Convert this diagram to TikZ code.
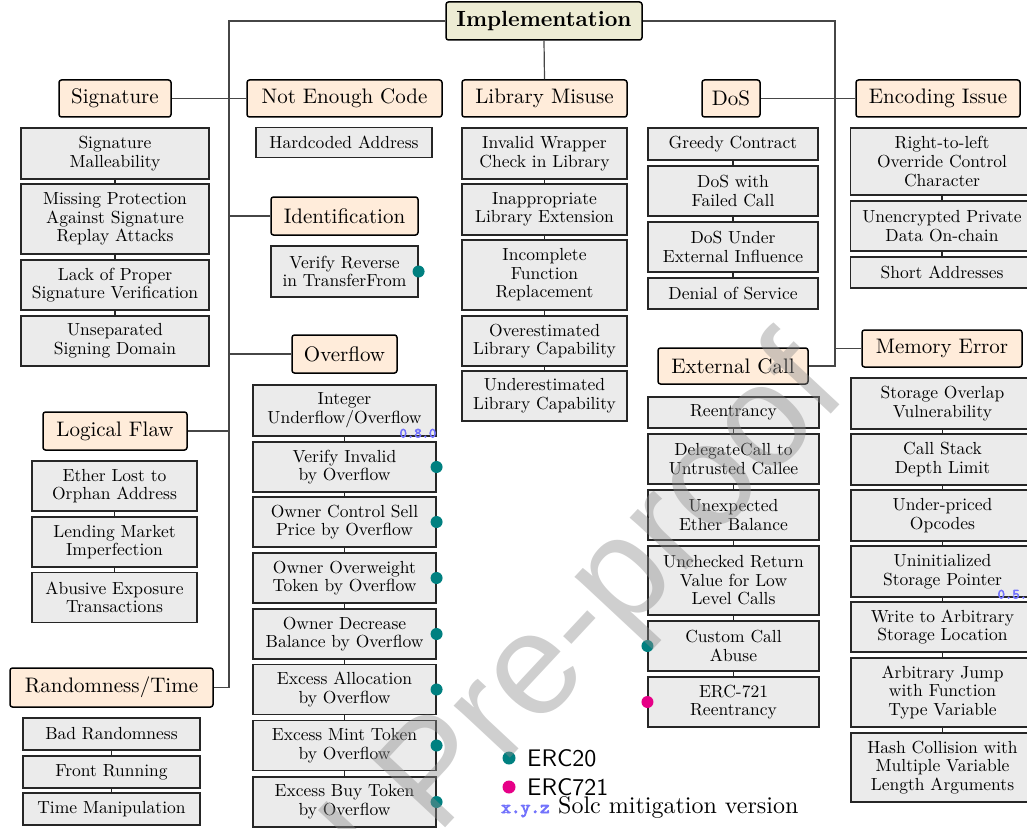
\documentclass[tikz,border=0pt]{standalone}
\usepackage{tikz}
\usepackage{fontspec}
\setmainfont{lmroman10-regular.otf}[BoldFont=lmroman10-bold.otf]
\setsansfont{lmsans10-regular.otf}
\setmonofont{lmmono10-regular.otf}
\newfontfamily\solcfont{lmmono10-regular.otf}[FakeBold=4]
\newfontfamily\wmfont{Liberation Sans}

\definecolor{hdrfill}{RGB}{255,236,218}
\definecolor{rootfill}{RGB}{237,236,212}
\definecolor{cellfill}{RGB}{235,235,235}
\definecolor{ercA}{RGB}{0,128,128}
\definecolor{ercB}{RGB}{230,0,135}
\definecolor{solc}{RGB}{115,115,252}
\definecolor{wirecol}{RGB}{70,70,70}

\tikzset{
  hdr/.style={draw=black, line width=1.5pt, rounded corners=2.5pt, fill=hdrfill,
    font=\fontsize{21}{24}\selectfont, inner sep=0pt, minimum height=37},
  rootbox/.style={hdr, fill=rootfill, font=\bfseries\fontsize{22}{24}\selectfont},
  cell/.style={draw=black!85, line width=1.1pt, fill=cellfill,
    font=\fontsize{17.5}{18.6}\selectfont, align=center, inner sep=1pt},
  treeline/.style={draw=wirecol, line width=1.2pt},
  stackline/.style={draw=black!85, line width=1.8pt},
  dotA/.style={circle, fill=ercA, draw=none, inner sep=0pt, minimum size=12},
  dotB/.style={circle, fill=ercB, draw=none, inner sep=0pt, minimum size=12},
  solcver/.style={text=solc, inner sep=0pt, font=\solcfont\fontsize{14}{15}\selectfont},
  legsans/.style={inner sep=0pt, font=\sffamily\fontsize{24}{26}\selectfont},
  legserif/.style={inner sep=0pt, font=\fontsize{24}{26}\selectfont},
}

\begin{document}
\begin{tikzpicture}[x=1pt,y=-1pt]
\useasboundingbox (0,0) rectangle (1027,829);
\clip (0,0) rectangle (1027,829);

% ---- category headers ----
\node[rootbox, minimum width=196, minimum height=38] (root) at (544,21) {Implementation};
\node[hdr, minimum width=112] (sig)   at (115,98.5)   {Signature};
\node[hdr, minimum width=195] (nec)   at (344.5,98.5) {Not Enough Code};
\node[hdr, minimum width=165] (lib)   at (544.5,98.5) {Library Misuse};
\node[hdr, minimum width=58]  (dos)   at (731,98.5)   {DoS};
\node[hdr, minimum width=164] (enc)   at (938,98.5)   {Encoding Issue};
\node[hdr, minimum width=147, minimum height=38] (ident) at (344.5,216) {Identification};
\node[hdr, minimum width=105, minimum height=38] (ovf)   at (344.5,354) {Overflow};
\node[hdr, minimum width=144, minimum height=38] (logic) at (115,431)   {Logical Flaw};
\node[hdr, minimum width=203, minimum height=39] (rand)  at (111.5,687.5) {Randomness/Time};
\node[hdr, minimum width=150, minimum height=36] (ext)   at (733,366)   {External Call};
\node[hdr, minimum width=160] (mem)   at (942,348.5)  {Memory Error};

% ---- tree connectors ----
\coordinate (lt) at (229,21);
\coordinate (rt) at (835,21);
\draw[treeline] (root.west) -| (lt |- rand.east) -- (rand.east);
\draw[treeline] (sig.east) -- (nec.west);
\draw[treeline] (ident.west) -- (ident.west -| lt);
\draw[treeline] (ovf.west) -- (ovf.west -| lt);
\draw[treeline] (logic.east) -- (logic.east -| lt);
\draw[treeline] (root.south) -- (lib.north);
\draw[treeline] (root.east) -| (rt |- ext.east) -- (ext.east);
\draw[treeline] (dos.east) -- (enc.west);
\draw[treeline] (mem.west) -- (mem.west -| rt);

% ---- Signature ----
\begin{scope}[every node/.append style={cell, minimum width=188}]
\node[minimum height=51] (s1) at (115,153.5) {Signature\\Malleability};
\node[minimum height=70] (s2) at (115,219)   {Missing Protection\\Against Signature\\Replay Attacks};
\node[minimum height=50] (s3) at (115,285)   {Lack of Proper\\Signature Verification};
\node[minimum height=50] (s4) at (115,341)   {Unseparated\\Signing Domain};
\end{scope}

% ---- Not Enough Code ----
\node[cell, minimum width=176, minimum height=30] (n1) at (344,142.5) {Hardcoded Address};

% ---- Library Misuse ----
\begin{scope}[every node/.append style={cell, minimum width=165}]
\node[minimum height=51] (l1) at (544.5,153.5) {Invalid Wrapper\\Check in Library};
\node[minimum height=51] (l2) at (544.5,209.5) {Inappropriate\\Library Extension};
\node[minimum height=70] (l3) at (544.5,275)   {Incomplete\\Function\\Replacement};
\node[minimum height=50] (l4) at (544.5,341)   {Overestimated\\Library Capability};
\node[minimum height=50] (l5) at (544.5,396)   {Underestimated\\Library Capability};
\end{scope}

% ---- DoS ----
\begin{scope}[every node/.append style={cell, minimum width=170}]
\node[minimum height=32] (d1) at (733,144)   {Greedy Contract};
\node[minimum height=50] (d2) at (733,191)   {DoS with\\Failed Call};
\node[minimum height=50] (d3) at (733,247)   {DoS Under\\External Influence};
\node[minimum height=31] (d4) at (733,293.5) {Denial of Service};
\end{scope}

% ---- Encoding Issue ----
\begin{scope}[every node/.append style={cell, minimum width=183}]
\node[minimum height=67] (e1) at (942,161.5) {Right-to-left\\Override Control\\Character};
\node[minimum height=50] (e2) at (942,226)   {Unencrypted Private\\Data On-chain};
\node[minimum height=31] (e3) at (942,272.5) {Short Addresses};
\end{scope}

% ---- Identification ----
\node[cell, minimum width=147, minimum height=51] (i1) at (344.5,271.5) {Verify Reverse\\in TransferFrom};

% ---- Overflow ----
\begin{scope}[every node/.append style={cell, minimum width=183, minimum height=50}]
\node[minimum height=51] (o1) at (344.5,410.5) {Integer\\Underflow/Overflow};
\node (o2) at (344.5,467)   {Verify Invalid\\by Overflow};
\node (o3) at (344.5,522)   {Owner Control Sell\\Price by Overflow};
\node (o4) at (344.5,578)   {Owner Overweight\\Token by Overflow};
\node (o5) at (344.5,634)   {Owner Decrease\\Balance by Overflow};
\node (o6) at (344.5,689.5) {Excess Allocation\\by Overflow};
\node (o7) at (344.5,745.5) {Excess Mint Token\\by Overflow};
\node (o8) at (344.5,802)   {Excess Buy Token\\by Overflow};
\end{scope}

% ---- Logical Flaw ----
\begin{scope}[every node/.append style={cell, minimum width=165, minimum height=50}]
\node (g1) at (114.5,486)   {Ether Lost to\\Orphan Address};
\node (g2) at (114.5,542)   {Lending Market\\Imperfection};
\node (g3) at (114.5,597.5) {Abusive Exposure\\Transactions};
\end{scope}

% ---- Randomness/Time ----
\begin{scope}[every node/.append style={cell, minimum width=177, minimum height=32}]
\node (r1) at (111.5,734) {Bad Randomness};
\node (r2) at (111.5,772) {Front Running};
\node (r3) at (111.5,809) {Time Manipulation};
\end{scope}

% ---- External Call ----
\begin{scope}[every node/.append style={cell, minimum width=171}]
\node[minimum height=31] (x1) at (733.5,412.5) {Reentrancy};
\node[minimum height=50] (x2) at (733.5,459)   {DelegateCall to\\Untrusted Callee};
\node[minimum height=50] (x3) at (733.5,515)   {Unexpected\\Ether Balance};
\node[minimum height=69] (x4) at (733.5,580.5) {Unchecked Return\\Value for Low\\Level Calls};
\node[minimum height=50] (x5) at (733.5,646)   {Custom Call\\Abuse};
\node[minimum height=50] (x6) at (733.5,702)   {ERC-721\\Reentrancy};
\end{scope}

% ---- Memory Error ----
\begin{scope}[every node/.append style={cell, minimum width=183}]
\node[minimum height=51] (m1) at (942.5,403.5) {Storage Overlap\\Vulnerability};
\node[minimum height=51] (m2) at (942.5,459.5) {Call Stack\\Depth Limit};
\node[minimum height=51] (m3) at (942.5,515.5) {Under-priced\\Opcodes};
\node[minimum height=51] (m4) at (942.5,571.5) {Uninitialized\\Storage Pointer};
\node[minimum height=50] (m5) at (942.5,627)   {Write to Arbitrary\\Storage Location};
\node[minimum height=69] (m6) at (942.5,692.5) {Arbitrary Jump\\with Function\\Type Variable};
\node[minimum height=69] (m7) at (942.5,767.5) {Hash Collision with\\Multiple Variable\\Length Arguments};
\end{scope}

% ---- links inside each stack ----
\foreach \a/\b in {s1/s2,s2/s3,s3/s4,l1/l2,l2/l3,l3/l4,l4/l5,d1/d2,d2/d3,d3/d4,
  e1/e2,e2/e3,o1/o2,o2/o3,o3/o4,o4/o5,o5/o6,o6/o7,o7/o8,g1/g2,g2/g3,r1/r2,r2/r3,
  x1/x2,x2/x3,x3/x4,x4/x5,x5/x6,m1/m2,m2/m3,m3/m4,m4/m5,m5/m6,m6/m7}
  \draw[stackline] (\a.south) -- (\b.north);

% ---- token standard markers ----
\node[dotA] (ki1) at (i1.east) {};
\foreach \n in {o2,o3,o4,o5,o6,o7,o8}
  \node[dotA] (k\n) at (\n.east) {};
\node[dotA] (kx5) at (x5.west) {};
\node[dotB] (kx6) at (x6.west) {};

% ---- compiler versions that mitigate ----
\node[solcver, anchor=base east] (v1) at ([yshift=-1pt]o1.south east) {0.8.0};
\node[solcver, anchor=base east] (v2) at ([yshift=-1pt]m4.south east) {0.5.0};

% ---- legend ----
\node[dotA, minimum size=13] (ldA) at (509,758) {};
\node[legsans, anchor=west] (ltA) at (527,758) {ERC20};
\node[dotB, minimum size=13] (ldB) at (509,787) {};
\node[legsans, anchor=west] (ltB) at (527,787) {ERC721};
\node[solcver, font=\solcfont\fontsize{18.5}{20}\selectfont, anchor=base west] (lvx) at (501,813) {x.y.z};
\node[legserif, anchor=base west] (lvt) at (558,813) {Solc mitigation version};

% ---- watermark ----
\node[rotate=47, anchor=base east, inner sep=0pt, text=black!45, opacity=0.42,
  font=\wmfont\fontsize{145}{145}\selectfont] (wm) at (850,394) {Journal Pre-proof};
\end{tikzpicture}
\end{document}
